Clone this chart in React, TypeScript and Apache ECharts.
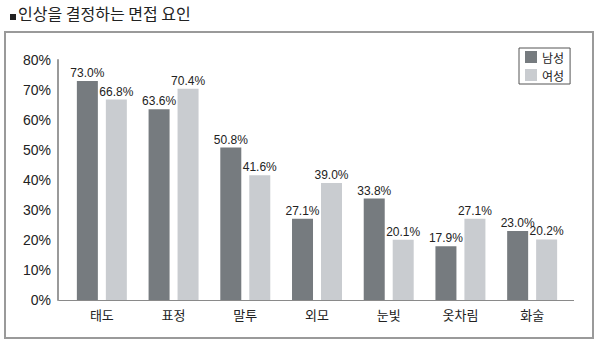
import React, { useEffect, useRef } from "react";
import * as echarts from "echarts";

const title = "인상을 결정하는 면접 요인";
const categories = ["태도", "표정", "말투", "외모", "눈빛", "옷차림", "화술"];
const seriesNames = ["남성", "여성"];
const maleValues = [73.0, 63.6, 50.8, 27.1, 33.8, 17.9, 23.0];
const femaleValues = [66.8, 70.4, 41.6, 39.0, 20.1, 27.1, 20.2];
const yTicks = { min: 0, max: 80, interval: 10 };

const NUM_FONT = '"Liberation Sans Narrow", "Liberation Sans", Arial, sans-serif';
const KR_FONT = '"Noto Sans CJK KR", "Noto Sans", sans-serif';

export default function App() {
  const ref = useRef<HTMLDivElement>(null);
  useEffect(() => {
    if (!ref.current) return;
    const chart = echarts.init(ref.current, null, { renderer: "svg" });
    const label = {
      show: true,
      position: "top" as const,
      distance: 2,
      color: "#222",
      fontFamily: NUM_FONT,
      fontSize: 12,
      formatter: (p: any) => p.value.toFixed(1) + "%",
    };
    chart.setOption({
      animation: false,
      backgroundColor: "#fff",
      graphic: [
        { type: "rect", left: 10, top: 14, shape: { width: 6, height: 6 }, style: { fill: "#222" } },
        {
          type: "text",
          left: 18,
          top: 5,
          style: { text: title, font: `16px ${KR_FONT}`, fill: "#222" },
        },
        {
          type: "rect",
          shape: { x: 5, y: 32, width: 588, height: 306 },
          style: { fill: "none", stroke: "#9a9a9a", lineWidth: 2 },
          z: -1,
        },
        {
          type: "line",
          shape: { x1: 58, y1: 300.5, x2: 574, y2: 300.5 },
          style: { stroke: "#8a8a8a", lineWidth: 1.2 },
        },
      ],
      legend: {
        data: seriesNames,
        orient: "vertical",
        left: 519,
        top: 48,
        itemWidth: 12,
        itemHeight: 12,
        itemGap: 6,
        icon: "rect",
        padding: [3, 6, 3, 6],
        borderColor: "#555",
        borderWidth: 1,
        textStyle: { fontFamily: KR_FONT, fontSize: 12, lineHeight: 12, color: "#222" },
      },
      grid: { left: 66, top: 60, width: 502, height: 240, containLabel: false },
      xAxis: {
        type: "category",
        data: categories,
        axisLine: { show: false },
        axisTick: { show: false },
        axisLabel: { fontFamily: KR_FONT, fontSize: 13, color: "#222", margin: 8 },
      },
      yAxis: {
        type: "value",
        min: yTicks.min,
        max: yTicks.max,
        interval: yTicks.interval,
        offset: 8,
        splitLine: { show: false },
        axisTick: { show: false },
        axisLine: { show: true, lineStyle: { color: "#9a9a9a", width: 2 } },
        axisLabel: {
          fontFamily: NUM_FONT,
          fontSize: 14,
          color: "#222",
          margin: 7,
          formatter: (v: number) => v + "%",
        },
      },
      series: [
        {
          name: seriesNames[0],
          type: "bar",
          data: maleValues,
          barWidth: 21,
          barGap: "38%",
          itemStyle: { color: "#767b7f" },
          label,
        },
        {
          name: seriesNames[1],
          type: "bar",
          data: femaleValues,
          barWidth: 21,
          itemStyle: { color: "#c9ccd0" },
          label,
        },
      ],
    });
    return () => chart.dispose();
  }, []);
  return (
    <div
      ref={ref}
      style={{ position: "fixed", left: 0, top: 0, width: 600, height: 341 }}
    />
  );
}
